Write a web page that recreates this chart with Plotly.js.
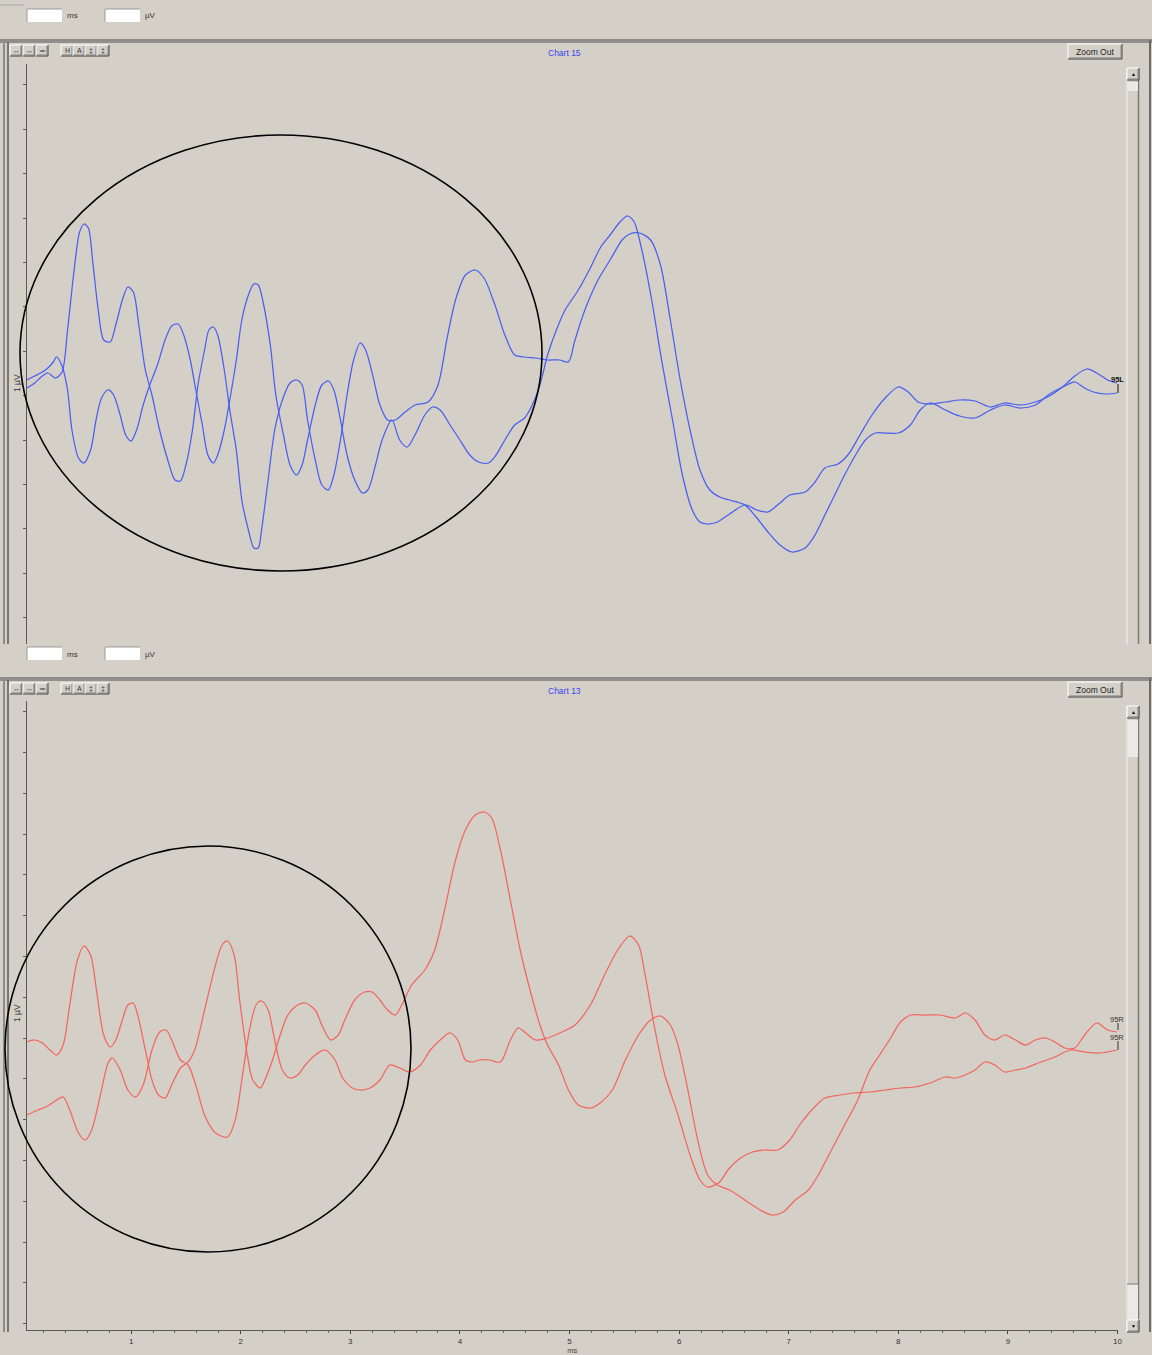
<!DOCTYPE html>
<html>
<head>
<meta charset="utf-8">
<script src="https://cdn.plot.ly/plotly-3.0.1.min.js"></script>
<style>
  html, body { margin: 0; padding: 0; background: #d4d0c8; }
  #chart { width: 1152px; height: 1355px; }
</style>
</head>
<body>
<div id="chart"></div>
<script>
// ---- Chart 15 : 95 dB, left ear (two polarities) ----
const leftA_ms = [0.05,0.12,0.19,0.24,0.31,0.37,0.42,0.48,0.53,0.57,0.61,0.65,0.70,0.75,0.81,0.86,0.92,0.97,1.02,1.07,1.13,1.19,1.26,1.34,1.40,1.45,1.50,1.56,1.61,1.67,1.71,1.75,1.79,1.85,1.90,1.96,2.01,2.07,2.12,2.16,2.19,2.25,2.31,2.38,2.45,2.51,2.56,2.61,2.68,2.74,2.80,2.85,2.91,2.97,3.03,3.09,3.14,3.21,3.27,3.34,3.41,3.50,3.59,3.71,3.80,3.88,3.96,4.05,4.14,4.22,4.32,4.41,4.50,4.59,4.69,4.80,4.91,4.99,5.05,5.14,5.26,5.37,5.48,5.55,5.64,5.74,5.83,5.92,6.01,6.10,6.19,6.28,6.37,6.46,6.60,6.71,6.81,6.92,7.03,7.15,7.24,7.33,7.42,7.51,7.61,7.70,7.79,7.88,8.00,8.11,8.20,8.29,8.43,8.56,8.70,8.84,8.97,9.11,9.25,9.38,9.52,9.61,9.70,9.78,9.89,9.995];
const leftA_uV = [-0.05,0.00,0.07,0.10,0.05,0.11,0.53,1.13,1.51,1.59,1.55,1.21,0.73,0.43,0.41,0.58,0.83,0.96,0.91,0.58,0.13,-0.12,-0.47,-0.79,-0.97,-0.98,-0.82,-0.47,-0.02,0.33,0.53,0.56,0.48,0.13,-0.27,-0.67,-1.17,-1.47,-1.65,-1.65,-1.47,-0.97,-0.47,-0.17,0.00,0.03,-0.02,-0.37,-0.77,-1.02,-1.07,-0.92,-0.57,-0.12,0.23,0.40,0.33,0.05,-0.22,-0.37,-0.37,-0.29,-0.22,-0.19,-0.02,0.43,0.83,1.08,1.13,1.05,0.78,0.48,0.28,0.26,0.25,0.23,0.23,0.21,0.43,0.73,1.03,1.23,1.43,1.49,1.50,1.43,1.18,0.63,0.03,-0.47,-0.87,-1.07,-1.14,-1.17,-1.22,-1.35,-1.49,-1.62,-1.69,-1.65,-1.52,-1.32,-1.12,-0.92,-0.72,-0.57,-0.50,-0.50,-0.50,-0.42,-0.27,-0.20,-0.27,-0.33,-0.35,-0.27,-0.22,-0.25,-0.22,-0.11,-0.03,0.01,-0.05,-0.09,-0.11,-0.10];

const leftB_ms = [0.05,0.12,0.19,0.24,0.29,0.32,0.37,0.42,0.46,0.52,0.57,0.63,0.68,0.73,0.79,0.84,0.90,0.95,1.00,1.05,1.11,1.17,1.24,1.31,1.37,1.43,1.48,1.54,1.59,1.65,1.70,1.75,1.79,1.85,1.90,1.96,2.01,2.07,2.12,2.16,2.20,2.27,2.32,2.39,2.45,2.51,2.56,2.61,2.68,2.74,2.80,2.85,2.91,2.97,3.04,3.11,3.16,3.23,3.29,3.38,3.45,3.52,3.59,3.68,3.75,3.82,3.91,4.00,4.09,4.17,4.26,4.33,4.41,4.50,4.59,4.66,4.73,4.80,4.88,4.96,5.08,5.19,5.28,5.37,5.46,5.53,5.59,5.66,5.75,5.84,5.94,6.03,6.12,6.19,6.26,6.35,6.46,6.60,6.71,6.81,6.92,7.01,7.15,7.24,7.33,7.45,7.54,7.65,7.76,7.88,8.00,8.09,8.18,8.29,8.43,8.56,8.70,8.84,8.97,9.11,9.25,9.38,9.52,9.61,9.72,9.81,9.91,9.995];
const leftB_uV = [0.03,0.07,0.11,0.15,0.21,0.26,0.17,-0.07,-0.47,-0.75,-0.80,-0.67,-0.37,-0.15,-0.07,-0.12,-0.32,-0.52,-0.58,-0.47,-0.22,-0.02,0.18,0.43,0.57,0.59,0.48,0.23,-0.07,-0.42,-0.72,-0.80,-0.72,-0.47,-0.17,0.23,0.63,0.88,0.99,0.98,0.83,0.38,-0.12,-0.52,-0.82,-0.92,-0.82,-0.57,-0.22,-0.02,0.02,-0.07,-0.37,-0.72,-0.97,-1.10,-1.07,-0.82,-0.57,-0.37,-0.57,-0.64,-0.52,-0.32,-0.24,-0.27,-0.42,-0.57,-0.72,-0.79,-0.80,-0.72,-0.57,-0.42,-0.35,-0.22,-0.02,0.28,0.53,0.73,0.93,1.15,1.35,1.48,1.61,1.67,1.61,1.33,0.83,0.23,-0.37,-0.92,-1.27,-1.39,-1.41,-1.39,-1.31,-1.22,-1.27,-1.29,-1.20,-1.12,-1.09,-0.99,-0.85,-0.81,-0.72,-0.52,-0.32,-0.15,-0.04,-0.09,-0.19,-0.21,-0.19,-0.17,-0.18,-0.24,-0.20,-0.22,-0.19,-0.13,-0.02,0.07,0.14,0.10,0.03,0.00];

// ---- Chart 13 : 95 dB, right ear (two polarities) ----
const rightA_ms = [0.05,0.12,0.19,0.26,0.32,0.38,0.44,0.51,0.57,0.63,0.69,0.75,0.81,0.86,0.92,0.97,1.02,1.06,1.13,1.19,1.25,1.31,1.37,1.45,1.52,1.58,1.67,1.77,1.83,1.88,1.94,1.99,2.06,2.11,2.18,2.22,2.29,2.36,2.43,2.52,2.59,2.68,2.74,2.82,2.89,2.95,3.04,3.13,3.20,3.27,3.34,3.41,3.47,3.56,3.68,3.77,3.86,3.96,4.05,4.14,4.22,4.29,4.37,4.46,4.55,4.64,4.73,4.80,4.90,4.99,5.08,5.19,5.28,5.39,5.51,5.63,5.74,5.83,5.92,5.99,6.08,6.17,6.26,6.35,6.46,6.60,6.74,6.85,6.95,7.06,7.18,7.27,7.39,7.51,7.63,7.74,7.83,7.93,8.02,8.11,8.24,8.38,8.52,8.61,8.70,8.79,8.88,8.97,9.07,9.16,9.25,9.34,9.43,9.52,9.61,9.70,9.81,9.91,9.995];
const rightA_uV = [-0.02,0.00,-0.03,-0.10,-0.15,-0.05,0.35,0.80,0.94,0.85,0.45,0.05,-0.07,0.00,0.20,0.35,0.37,0.25,-0.10,-0.40,-0.55,-0.58,-0.45,-0.28,-0.22,-0.10,0.30,0.75,0.95,0.99,0.85,0.40,-0.15,-0.40,-0.48,-0.40,-0.20,0.05,0.25,0.35,0.37,0.30,0.15,0.00,0.05,0.20,0.40,0.48,0.48,0.40,0.30,0.25,0.35,0.55,0.70,0.90,1.30,1.80,2.10,2.25,2.28,2.22,1.90,1.40,0.90,0.50,0.15,-0.05,-0.25,-0.50,-0.65,-0.68,-0.63,-0.50,-0.20,0.05,0.20,0.24,0.15,-0.05,-0.50,-1.00,-1.35,-1.45,-1.50,-1.60,-1.70,-1.75,-1.72,-1.60,-1.50,-1.35,-1.10,-0.85,-0.60,-0.30,-0.15,0.02,0.18,0.25,0.25,0.25,0.22,0.27,0.20,0.05,0.00,0.05,0.00,-0.05,0.00,0.02,-0.02,-0.08,-0.08,0.05,0.17,0.10,0.08];

const rightB_ms = [0.05,0.15,0.24,0.32,0.38,0.44,0.52,0.58,0.64,0.72,0.79,0.83,0.90,0.97,1.04,1.11,1.19,1.26,1.32,1.37,1.45,1.52,1.59,1.67,1.77,1.88,1.95,2.01,2.08,2.14,2.19,2.25,2.31,2.38,2.45,2.52,2.59,2.68,2.77,2.86,2.93,3.02,3.09,3.18,3.27,3.36,3.45,3.54,3.64,3.73,3.82,3.91,3.98,4.05,4.11,4.18,4.27,4.37,4.46,4.53,4.59,4.69,4.80,4.91,5.05,5.19,5.32,5.44,5.55,5.63,5.69,5.78,5.87,5.99,6.10,6.19,6.26,6.36,6.46,6.56,6.67,6.78,6.90,7.01,7.10,7.21,7.33,7.47,7.60,7.74,7.88,8.02,8.15,8.29,8.43,8.52,8.61,8.70,8.79,8.88,8.97,9.07,9.16,9.30,9.43,9.57,9.70,9.84,9.995];
const rightB_uV = [-0.75,-0.70,-0.66,-0.60,-0.57,-0.70,-0.93,-1.00,-0.90,-0.55,-0.23,-0.18,-0.30,-0.50,-0.57,-0.45,-0.10,0.08,0.10,0.00,-0.20,-0.25,-0.45,-0.75,-0.93,-0.97,-0.80,-0.40,0.10,0.35,0.39,0.30,0.00,-0.30,-0.38,-0.35,-0.25,-0.15,-0.10,-0.20,-0.38,-0.48,-0.50,-0.48,-0.40,-0.25,-0.28,-0.32,-0.25,-0.10,0.00,0.07,0.00,-0.20,-0.22,-0.20,-0.20,-0.22,0.00,0.12,0.08,0.00,0.02,0.07,0.15,0.35,0.65,0.90,1.04,0.95,0.65,0.10,-0.35,-0.75,-1.15,-1.40,-1.47,-1.43,-1.28,-1.18,-1.12,-1.10,-1.10,-1.00,-0.85,-0.70,-0.58,-0.55,-0.53,-0.52,-0.50,-0.48,-0.47,-0.43,-0.37,-0.38,-0.35,-0.30,-0.22,-0.25,-0.32,-0.30,-0.28,-0.22,-0.17,-0.10,-0.12,-0.13,-0.10];

// x-axis tick labels (ms)
const msTicks = [1,2,3,4,5,6,7,8,9,10];
const msTickText = ['1','2','3','4','5','6','7','8','9','10'];

// ---- page geometry (screen pixels) ----
const W = 1152, H = 1355;
const X = v => v / W;
const Y = v => 1 - v / H;
const BG = '#d4d0c8';
const FONT = 'Liberation Sans, Arial, sans-serif';

const shapes = [];
const annotations = [];

function rect(x0, y0, x1, y1, fill, stroke, lw, layer) {
  shapes.push({type: 'rect', xref: 'paper', yref: 'paper',
    x0: X(x0), x1: X(x1), y0: Y(y1), y1: Y(y0),
    fillcolor: fill || 'rgba(0,0,0,0)',
    line: {color: stroke || 'rgba(0,0,0,0)', width: lw || 0},
    layer: layer || 'below'});
}
function seg(x0, y0, x1, y1, color, lw, layer) {
  shapes.push({type: 'line', xref: 'paper', yref: 'paper',
    x0: X(x0), x1: X(x1), y0: Y(y0), y1: Y(y1),
    line: {color: color, width: lw || 1}, layer: layer || 'below'});
}
function text(x, y, s, size, color, opts) {
  annotations.push(Object.assign({xref: 'paper', yref: 'paper', x: X(x), y: Y(y),
    text: s, showarrow: false, xanchor: 'center', yanchor: 'middle',
    font: {family: FONT, size: size, color: color || '#222'}}, opts || {}));
}
function raised(x0, y0, x1, y1) {
  rect(x0, y0, x1, y1, BG);
  seg(x0, y0, x1, y0, '#ffffff', 1);
  seg(x0, y0, x0, y1, '#ffffff', 1);
  seg(x0, y1, x1, y1, '#404040', 1);
  seg(x1, y0, x1, y1, '#404040', 1);
  seg(x0 + 1, y1 - 1, x1 - 1, y1 - 1, '#808080', 1);
  seg(x1 - 1, y0 + 1, x1 - 1, y1 - 1, '#808080', 1);
}
function sunken(x0, y0, x1, y1) {
  rect(x0, y0, x1, y1, '#ffffff');
  seg(x0, y0, x1, y0, '#9a9a9a', 1);
  seg(x0, y0, x0, y1, '#9a9a9a', 1);
}

// one chart window: entry row, frame, toolbar, title, zoom button, scrollbar
function chartWindow(top, title, bottom, scrollTopThumb, scrollBottomThumb) {
  // entry row
  sunken(27, top - 31, 62, top - 18);
  text(72, top - 24, 'ms', 8, '#333');
  sunken(105, top - 31, 140, top - 18);
  text(150, top - 24, 'µV', 8, '#333');
  // frame
  seg(0, top, W, top, '#8c8c8c', 2);
  seg(0, top + 2, W, top + 2, '#505050', 1);
  seg(4, top, 4, bottom, '#8c8c8c', 2);
  seg(8, top + 2, 8, bottom, '#5a5a5a', 1.5);
  seg(1150, top, 1150, bottom, '#6a6a6a', 2);
  // toolbar
  const tb1 = [[10, '↔'], [23, '↔'], [36, '═']];
  tb1.forEach(([x, s]) => { raised(x, top + 5, x + 12, top + 16); text(x + 6, top + 10.5, s, 7, '#333'); });
  const tb2 = [[61, 'H'], [73, 'A'], [85, '‡'], [97, '‡']];
  tb2.forEach(([x, s]) => { raised(x, top + 5, x + 12, top + 16); text(x + 6, top + 10.5, s, 7, '#333'); });
  // title
  text(564, top + 13, title, 8.5, '#3a46f5');
  // zoom out button
  raised(1068, top + 4, 1122, top + 19);
  text(1095, top + 11.5, 'Zoom Out', 8.5, '#222');
  // scrollbar
  const s0 = top + 28;
  rect(1127, s0, 1139, bottom, BG);
  seg(1127, s0, 1127, bottom, '#f4f4f4', 1);
  seg(1138.5, s0, 1138.5, bottom, '#7a7a7a', 1.5);
  raised(1127, s0, 1139, s0 + 12);
  text(1133, s0 + 6, '▲', 5, '#000');
  rect(1128, s0 + 14, 1138, s0 + 14 + scrollTopThumb, '#ebe9e5');
  if (scrollBottomThumb) {
    rect(1128, bottom - 48, 1138, bottom - 12, '#ebe9e5');
    seg(1127, bottom - 48, 1139, bottom - 48, '#7a7a7a', 1);
    raised(1127, bottom - 12, 1139, bottom);
    text(1133, bottom - 6, '▼', 5, '#000');
  }
}

seg(0, 5, 24, 5, '#a8a8a8', 1);
chartWindow(40, 'Chart 15', 644, 9, false);
chartWindow(678, 'Chart 13', 1332, 37, true);

// scale labels
text(17, 383, '1 µV', 8.5, '#333', {textangle: -90});
text(17, 1013, '1 µV', 8.5, '#333', {textangle: -90});

// curve end labels
text(1117, 380, '<b>95L</b>', 7.5, '#111');
seg(1118, 384, 1118, 393, '#111', 1, 'above');
text(1117, 1019, '95R', 7.5, '#333');
seg(1118, 1023, 1118, 1030, '#333', 1, 'above');
text(1117, 1037, '95R', 7.5, '#333');
seg(1118, 1041, 1118, 1050, '#333', 1, 'above');

// highlight rings
shapes.push({type: 'circle', xref: 'paper', yref: 'paper',
  x0: X(20), x1: X(542), y0: Y(571), y1: Y(135),
  line: {color: '#000', width: 1.6}, layer: 'above'});
shapes.push({type: 'circle', xref: 'paper', yref: 'paper',
  x0: X(5), x1: X(411), y0: Y(1252), y1: Y(846),
  line: {color: '#000', width: 1.6}, layer: 'above'});

const blue = '#4a5ef0';
const red = '#f2665f';
const lineStyle = c => ({color: c, width: 1.25, shape: 'spline', smoothing: 0.8});

const traces = [
  {x: leftA_ms, y: leftA_uV, xaxis: 'x', yaxis: 'y', mode: 'lines', line: lineStyle(blue), name: '95L'},
  {x: leftB_ms, y: leftB_uV, xaxis: 'x', yaxis: 'y', mode: 'lines', line: lineStyle(blue), name: '95L'},
  {x: rightA_ms, y: rightA_uV, xaxis: 'x2', yaxis: 'y2', mode: 'lines', line: lineStyle(red), name: '95R'},
  {x: rightB_ms, y: rightB_uV, xaxis: 'x2', yaxis: 'y2', mode: 'lines', line: lineStyle(red), name: '95R'}
];

const xDomain = [X(27), X(1117.5)];
const yAxisBase = {showline: true, linecolor: '#5a5a5a', linewidth: 1, ticks: 'outside',
  ticklen: 3, tickcolor: '#5a5a5a', tickwidth: 1, showticklabels: false,
  showgrid: false, zeroline: false, fixedrange: true};

const layout = {
  width: W, height: H,
  margin: {l: 0, r: 0, t: 0, b: 0},
  paper_bgcolor: BG, plot_bgcolor: 'rgba(0,0,0,0)',
  showlegend: false, hovermode: false,
  font: {family: FONT, size: 8, color: '#333'},
  xaxis: {domain: xDomain, range: [0.05, 10.0], anchor: 'y', visible: false, fixedrange: true},
  yaxis: Object.assign({}, yAxisBase, {domain: [Y(644), Y(64)], range: [-2.61, 3.19],
    anchor: 'x', tick0: 0.317, dtick: 0.444}),
  xaxis2: {domain: xDomain, range: [0.05, 10.0], anchor: 'y2', showline: true,
    linecolor: '#5a5a5a', linewidth: 1.2, ticks: 'outside', ticklen: 3, tickcolor: '#444',
    tickvals: msTicks, ticktext: msTickText, tickfont: {family: FONT, size: 8, color: '#333'},
    minor: {dtick: 0.2, tick0: 0, ticks: 'outside', ticklen: 2, tickcolor: '#666', showgrid: false},
    showgrid: false, zeroline: false, fixedrange: true,
    title: {text: 'ms', font: {family: FONT, size: 7.5, color: '#444'}, standoff: 0}},
  yaxis2: Object.assign({}, yAxisBase, {domain: [Y(1330), Y(701)], range: [-2.90, 3.39],
    anchor: 'x2', tick0: 0.02, dtick: 0.408}),
  shapes: shapes,
  annotations: annotations
};

Plotly.newPlot('chart', traces, layout, {staticPlot: true, displayModeBar: false});
</script>
</body>
</html>
